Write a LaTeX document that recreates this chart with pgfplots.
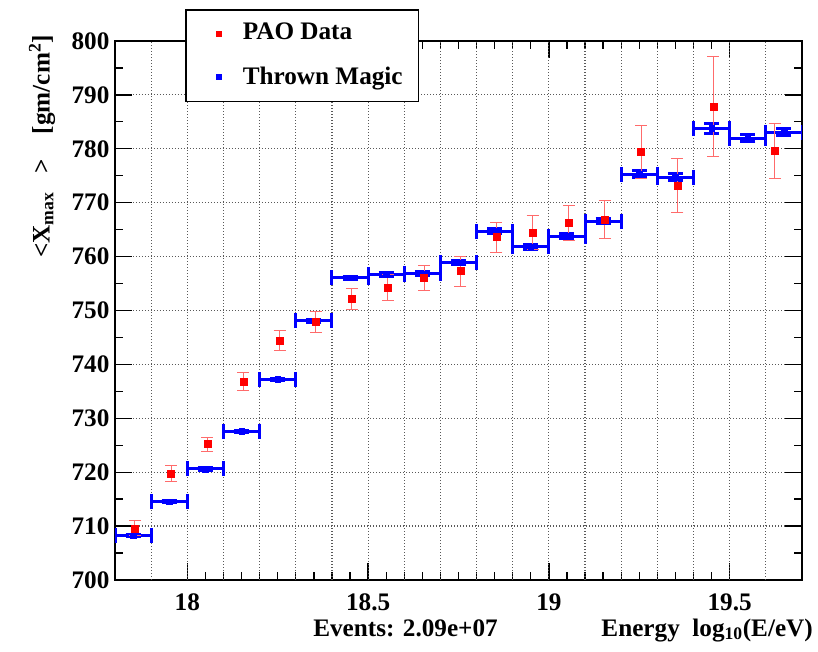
\documentclass[border=0pt]{standalone}
\usepackage{fontspec}
\setmainfont{Liberation Serif}
\usepackage{pgfplots}
\usepackage{pgfplotstable}
\pgfplotsset{compat=1.18}
\definecolor{errred}{rgb}{1,0.42,0.42}
\definecolor{gridgray}{rgb}{0.35,0.35,0.35}

\pgfplotstableread{
x y ey
17.85 708.2 0.2
17.95 714.5 0.2
18.05 720.6 0.2
18.15 727.6 0.2
18.25 737.2 0.2
18.35 748.1 0.25
18.45 756.1 0.3
18.55 756.7 0.3
18.65 756.8 0.35
18.75 758.9 0.4
18.85 764.7 0.5
18.95 761.8 0.45
19.05 763.8 0.45
19.15 766.6 0.5
19.25 775.3 0.6
19.35 774.7 0.65
19.45 783.8 0.9
19.55 782.0 0.6
19.65 783.1 0.7
}\magic

\pgfplotstableread{
x y ey
17.855 709.6 1.4
17.955 719.8 1.5
18.055 725.2 1.3
18.155 736.8 1.7
18.255 744.4 1.8
18.355 747.9 1.9
18.455 752.1 2.0
18.555 754.3 2.4
18.655 756.1 2.3
18.755 757.3 2.8
18.855 763.6 2.8
18.955 764.5 3.2
19.055 766.2 3.3
19.155 766.9 3.5
19.255 779.4 4.9
19.355 773.2 5.0
19.455 787.8 9.3
19.625 779.6 5.1
}\pao

\begin{document}
\fontsize{25.3}{30}\selectfont\bfseries
\begin{tikzpicture}
\begin{axis}[
  at={(0,0)}, anchor=south west,
  scale only axis, width=687bp, height=539bp,
  xmin=17.8, xmax=19.7, ymin=700, ymax=800,
  xtick={18,18.5,19,19.5}, minor x tick num=9,
  ytick={700,710,720,730,740,750,760,770,780,790,800}, minor y tick num=1,
  tick pos=both, tick align=inside,
  major tick length=17bp, minor tick length=8bp,
  every tick/.style={black, line width=1.3bp},
  axis line style={line width=2bp},
  ymajorgrids,
  extra x ticks={17.9,18.0,18.1,18.2,18.3,18.4,18.5,18.6,18.7,18.8,18.9,19.0,19.1,19.2,19.3,19.4,19.5,19.6},
  extra x tick labels={},
  extra x tick style={grid=major, major tick length=0pt},
  grid style={gridgray, line width=1.2bp, dash pattern=on 1.2bp off 1.8bp},
  /pgf/number format/assume math mode=true,
  tick label style={font=\fontsize{25.3}{25.3}\selectfont\bfseries},
  yticklabel style={xshift=3bp},
  xticklabel style={yshift=-5bp},
  legend style={at={(axis description cs:0.1019,1.0594)}, anchor=north west,
    draw=black, line width=1.6bp, fill=white, inner xsep=8bp, inner ysep=9.5bp,
    row sep=15bp, font=\fontsize{25.3}{25.3}\selectfont\bfseries,
    nodes={inner xsep=8bp, inner ysep=4bp},
    /tikz/every odd column/.append style={column sep=7bp}},
  legend cell align=left,
  legend image code/.code={\path[draw=none,fill=none] (0bp,-3bp) rectangle (34bp,3bp); \fill[draw=none] (22bp,-3bp) rectangle (28bp,3bp);},
]
\addlegendimage{red}
\addlegendentry{PAO Data}
\addlegendimage{blue}
\addlegendentry{Thrown Magic}

\addplot[blue, only marks, mark=square*, mark size=2.8bp, forget plot,
  error bars/.cd, x dir=both, x fixed=0.05, y dir=both, y explicit,
  error bar style={line width=3bp, blue},
  error mark options={rotate=90, blue, mark size=7.5bp, line width=3bp}]
  table[x=x, y=y, y error=ey] {\magic};

\addplot[red, only marks, mark=square*, mark size=3.5bp, forget plot,
  error bars/.cd, y dir=both, y explicit,
  error bar style={line width=1bp, errred},
  error mark options={rotate=90, errred, mark size=6bp, line width=1bp}]
  table[x=x, y=y, y error=ey] {\pao};
\end{axis}
\node[rotate=90, anchor=east, inner sep=0pt] at (-73bp,545bp) {<X\textsubscript{max}\ \ \ >\ \ \ \ [gm/cm\textsuperscript{2}]};
\node[anchor=base east, inner sep=0pt] at (383bp,-56bp) {Events: 2.09e+07};
\node[anchor=base east, inner sep=0pt] at (698bp,-56bp) {Energy\ \ log\textsubscript{10}(E/eV)};
\pgfresetboundingbox
\path[use as bounding box] (-115bp,-72bp) rectangle (703bp,580bp);
\end{tikzpicture}
\end{document}
